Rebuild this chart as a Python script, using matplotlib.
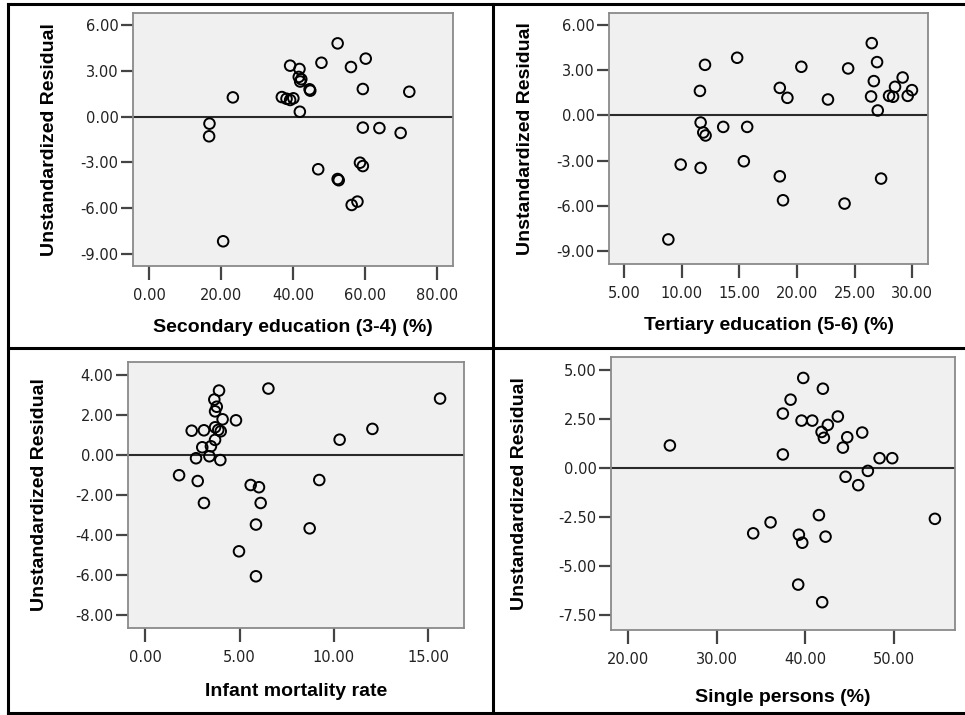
import matplotlib
matplotlib.use("Agg")
import matplotlib.pyplot as plt
from matplotlib.lines import Line2D
import numpy as np

plt.rcParams['font.family'] = ['Liberation Sans', 'DejaVu Sans']

ylabel = "Unstandardized Residual"

# panel 1: secondary education
sec_x = [52.4, 60.2, 47.9, 39.2, 41.8, 56.1, 41.6, 42.0, 44.6, 44.8, 59.4, 72.3,
         23.3, 36.9, 38.2, 39.2, 40.1, 41.9, 16.8, 16.7, 59.4, 64.0, 69.9, 47.0,
         58.6, 59.4, 52.4, 52.7, 56.3, 57.9, 20.6, 42.3]
sec_res = [4.80, 3.80, 3.53, 3.34, 3.12, 3.25, 2.60, 2.30, 1.79, 1.70, 1.81, 1.63,
           1.26, 1.28, 1.17, 1.09, 1.20, 0.32, -0.46, -1.29, -0.72, -0.75, -1.07, -3.45,
           -3.02, -3.24, -4.09, -4.17, -5.79, -5.57, -8.17, 2.45]

# panel 2: tertiary education
ter_x = [26.48, 14.80, 12.01, 20.37, 24.43, 26.94, 26.66, 29.16, 28.50, 29.97, 29.60,
         27.98, 28.33, 26.42, 11.57, 18.50, 19.16, 22.68, 27.00, 11.63, 11.86, 12.06,
         13.59, 15.67, 9.90, 11.63, 15.38, 18.50, 27.29, 18.78, 24.12, 8.83]
ter_res = [4.80, 3.83, 3.36, 3.23, 3.12, 3.54, 2.28, 2.52, 1.90, 1.68, 1.30,
           1.30, 1.24, 1.26, 1.63, 1.83, 1.17, 1.06, 0.33, -0.47, -1.13, -1.33,
           -0.76, -0.76, -3.26, -3.48, -3.04, -4.04, -4.19, -5.63, -5.85, -8.23]

# panel 3: infant mortality
inf_x = [6.53, 15.64, 3.91, 3.66, 3.79, 3.70, 4.10, 4.81, 2.46, 3.11, 3.70, 3.87,
         4.00, 3.70, 12.05, 10.31, 3.02, 3.48, 2.69, 3.40, 3.98, 1.79, 2.78, 3.11,
         5.59, 6.03, 6.12, 9.23, 5.87, 8.72, 4.97, 5.87]
inf_res = [3.32, 2.82, 3.22, 2.77, 2.41, 2.18, 1.78, 1.73, 1.21, 1.23, 1.38, 1.25,
           1.18, 0.75, 1.30, 0.76, 0.38, 0.43, -0.17, -0.07, -0.26, -1.02, -1.31, -2.41,
           -1.51, -1.62, -2.41, -1.26, -3.49, -3.68, -4.83, -6.08]

# panel 4: single persons
sgl_x = [39.76, 41.98, 38.33, 37.46, 39.57, 40.78, 43.67, 42.54, 41.83, 42.09, 44.73,
         44.24, 46.42, 24.70, 37.46, 48.38, 49.81, 47.06, 44.54, 45.97, 41.53, 36.07,
         34.11, 39.27, 39.65, 42.28, 54.63, 39.19, 41.90]
sgl_res = [4.61, 4.06, 3.50, 2.79, 2.43, 2.43, 2.64, 2.21, 1.85, 1.55, 1.58,
           1.05, 1.82, 1.16, 0.70, 0.51, 0.51, -0.14, -0.44, -0.87, -2.40, -2.77,
           -3.33, -3.40, -3.81, -3.50, -2.59, -5.95, -6.85]

W, H = 965, 715
fig = plt.figure(figsize=(W / 100, H / 100), dpi=100)


def panel(box, x, y, xlim, ylim, xticks, yticks, xlabel, ylab_x, xlab_y):
    # box in pixels: left, top, right, bottom
    l, t, r, b = box
    ax = fig.add_axes([l / W, 1 - b / H, (r - l) / W, (b - t) / H])
    ax.set_facecolor('#f0f0f0')
    for s in ax.spines.values():
        s.set_color('#8a8a8a')
        s.set_linewidth(1.3)
    ax.axhline(0, color='#2a2a2a', lw=1.5, zorder=1)
    ax.scatter(x, y, s=58, facecolors='none', edgecolors='black', linewidths=1.4, zorder=3)
    ax.set_xlim(*xlim)
    ax.set_ylim(*ylim)
    ax.set_xticks(xticks)
    ax.set_yticks(yticks)
    ax.set_xticklabels(['%.2f' % v for v in xticks], family='DejaVu Sans')
    ax.set_yticklabels(['%.2f' % v for v in yticks], family='DejaVu Sans')
    ax.tick_params(axis='x', direction='out', length=10, width=1.6, color='#444444',
                   pad=6, labelsize=10.5, labelcolor='#222222')
    ax.tick_params(axis='y', direction='out', length=9, width=1.6, color='#444444',
                   pad=1.5, labelsize=10.5, labelcolor='#222222')
    ax.set_xlabel(xlabel, fontsize=14, fontweight='bold', va='center')
    ax.set_ylabel(ylabel, fontsize=14, fontweight='bold', va='center')
    ax.xaxis.set_label_coords(0.5, -(xlab_y - b) / (b - t))
    ax.yaxis.set_label_coords(-(l - ylab_x) / (r - l), 0.5)
    return ax


panel((133, 13, 453, 266), sec_x, sec_res, (-4.44, 84.44), (-9.79, 6.79),
      [0, 20, 40, 60, 80], [6, 3, 0, -3, -6, -9],
      "Secondary education (3-4) (%)", 50, 328)
panel((609, 13, 928, 264), ter_x, ter_res, (3.68, 31.36), (-9.86, 6.80),
      [5, 10, 15, 20, 25, 30], [6, 3, 0, -3, -6, -9],
      "Tertiary education (5-6) (%)", 525, 325)
panel((128, 362, 464, 628), inf_x, inf_res, (-0.92, 16.91), (-8.67, 4.65),
      [0, 5, 10, 15], [4, 2, 0, -2, -4, -6, -8],
      "Infant mortality rate", 40, 691)
panel((611, 357, 955, 630), sgl_x, sgl_res, (18.05, 56.9), (-8.27, 5.68),
      [20, 30, 40, 50], [5, 2.5, 0, -2.5, -5, -7.5],
      "Single persons (%)", 520, 697)

# table frame around the four panels
def hline(y, x0, x1):
    fig.add_artist(Line2D([x0 / W, x1 / W], [1 - y / H, 1 - y / H], color='black', lw=2.2))


def vline(x, y0, y1):
    fig.add_artist(Line2D([x / W, x / W], [1 - y0 / H, 1 - y1 / H], color='black', lw=2.2))


hline(4, 8, 965)
hline(348, 8, 965)
hline(713, 8, 965)
vline(8, 4, 713)
vline(493, 4, 713)

fig.savefig('out.png', dpi=100)
